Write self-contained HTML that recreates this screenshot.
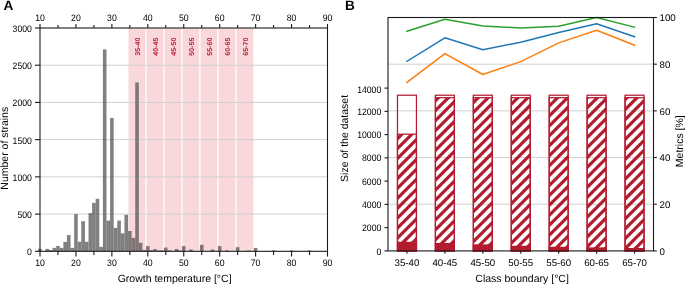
<!DOCTYPE html>
<html><head><meta charset="utf-8"><style>
html,body{margin:0;padding:0;background:#fff;width:685px;height:284px;overflow:hidden}
svg{display:block;font-family:"Liberation Sans", sans-serif;will-change:transform;text-rendering:geometricPrecision}
</style></head><body>
<svg width="685" height="284" viewBox="0 0 685 284">
<rect x="128.05" y="28.00" width="17.97" height="223.30" fill="#f9d7db"/>
<rect x="146.02" y="28.00" width="17.97" height="223.30" fill="#f9d7db"/>
<rect x="163.98" y="28.00" width="17.97" height="223.30" fill="#f9d7db"/>
<rect x="181.95" y="28.00" width="17.97" height="223.30" fill="#f9d7db"/>
<rect x="199.92" y="28.00" width="17.97" height="223.30" fill="#f9d7db"/>
<rect x="217.89" y="28.00" width="17.97" height="223.30" fill="#f9d7db"/>
<rect x="235.86" y="28.00" width="17.97" height="223.30" fill="#f9d7db"/>
<rect x="128.05" y="28.00" width="17.97" height="223.30" fill="none" stroke="#fff" stroke-width="1" stroke-opacity="0.85"/>
<rect x="146.02" y="28.00" width="17.97" height="223.30" fill="none" stroke="#fff" stroke-width="1" stroke-opacity="0.85"/>
<rect x="163.98" y="28.00" width="17.97" height="223.30" fill="none" stroke="#fff" stroke-width="1" stroke-opacity="0.85"/>
<rect x="181.95" y="28.00" width="17.97" height="223.30" fill="none" stroke="#fff" stroke-width="1" stroke-opacity="0.85"/>
<rect x="199.92" y="28.00" width="17.97" height="223.30" fill="none" stroke="#fff" stroke-width="1" stroke-opacity="0.85"/>
<rect x="217.89" y="28.00" width="17.97" height="223.30" fill="none" stroke="#fff" stroke-width="1" stroke-opacity="0.85"/>
<rect x="235.86" y="28.00" width="17.97" height="223.30" fill="none" stroke="#fff" stroke-width="1" stroke-opacity="0.85"/>
<line x1="40.0" y1="214.08" x2="327.5" y2="214.08" stroke="#d0d0d0" stroke-width="1"/>
<line x1="40.0" y1="176.87" x2="327.5" y2="176.87" stroke="#d0d0d0" stroke-width="1"/>
<line x1="40.0" y1="139.65" x2="327.5" y2="139.65" stroke="#d0d0d0" stroke-width="1"/>
<line x1="40.0" y1="102.43" x2="327.5" y2="102.43" stroke="#d0d0d0" stroke-width="1"/>
<line x1="40.0" y1="65.22" x2="327.5" y2="65.22" stroke="#d0d0d0" stroke-width="1"/>
<rect x="38.20" y="248.90" width="3.594" height="2.40" fill="#555555" fill-opacity="0.75"/>
<rect x="45.39" y="248.90" width="3.594" height="2.40" fill="#555555" fill-opacity="0.75"/>
<rect x="48.98" y="250.00" width="3.594" height="1.30" fill="#555555" fill-opacity="0.75"/>
<rect x="52.58" y="247.90" width="3.594" height="3.40" fill="#555555" fill-opacity="0.75"/>
<rect x="56.17" y="245.90" width="3.594" height="5.40" fill="#555555" fill-opacity="0.75"/>
<rect x="59.77" y="247.90" width="3.594" height="3.40" fill="#555555" fill-opacity="0.75"/>
<rect x="63.36" y="241.90" width="3.594" height="9.40" fill="#555555" fill-opacity="0.75"/>
<rect x="66.95" y="235.10" width="3.594" height="16.20" fill="#555555" fill-opacity="0.75"/>
<rect x="70.55" y="247.90" width="3.594" height="3.40" fill="#555555" fill-opacity="0.75"/>
<rect x="74.14" y="214.10" width="3.594" height="37.20" fill="#555555" fill-opacity="0.75"/>
<rect x="77.73" y="241.80" width="3.594" height="9.50" fill="#555555" fill-opacity="0.75"/>
<rect x="81.33" y="221.20" width="3.594" height="30.10" fill="#555555" fill-opacity="0.75"/>
<rect x="84.92" y="241.80" width="3.594" height="9.50" fill="#555555" fill-opacity="0.75"/>
<rect x="88.52" y="213.10" width="3.594" height="38.20" fill="#555555" fill-opacity="0.75"/>
<rect x="92.11" y="202.90" width="3.594" height="48.40" fill="#555555" fill-opacity="0.75"/>
<rect x="95.70" y="198.80" width="3.594" height="52.50" fill="#555555" fill-opacity="0.75"/>
<rect x="99.30" y="246.90" width="3.594" height="4.40" fill="#555555" fill-opacity="0.75"/>
<rect x="102.89" y="49.40" width="3.594" height="201.90" fill="#555555" fill-opacity="0.75"/>
<rect x="106.48" y="220.60" width="3.594" height="30.70" fill="#555555" fill-opacity="0.75"/>
<rect x="110.08" y="118.00" width="3.594" height="133.30" fill="#555555" fill-opacity="0.75"/>
<rect x="113.67" y="227.90" width="3.594" height="23.40" fill="#555555" fill-opacity="0.75"/>
<rect x="117.27" y="220.60" width="3.594" height="30.70" fill="#555555" fill-opacity="0.75"/>
<rect x="120.86" y="233.30" width="3.594" height="18.00" fill="#555555" fill-opacity="0.75"/>
<rect x="124.45" y="214.80" width="3.594" height="36.50" fill="#555555" fill-opacity="0.75"/>
<rect x="128.05" y="231.00" width="3.594" height="20.30" fill="#555555" fill-opacity="0.75"/>
<rect x="131.64" y="237.90" width="3.594" height="13.40" fill="#555555" fill-opacity="0.75"/>
<rect x="135.23" y="82.40" width="3.594" height="168.90" fill="#555555" fill-opacity="0.75"/>
<rect x="138.83" y="242.80" width="3.594" height="8.50" fill="#555555" fill-opacity="0.75"/>
<rect x="142.42" y="249.90" width="3.594" height="1.40" fill="#555555" fill-opacity="0.75"/>
<rect x="146.02" y="246.10" width="3.594" height="5.20" fill="#555555" fill-opacity="0.75"/>
<rect x="149.61" y="250.20" width="3.594" height="1.10" fill="#555555" fill-opacity="0.75"/>
<rect x="153.20" y="249.00" width="3.594" height="2.30" fill="#555555" fill-opacity="0.75"/>
<rect x="156.80" y="250.50" width="3.594" height="0.80" fill="#555555" fill-opacity="0.75"/>
<rect x="160.39" y="250.40" width="3.594" height="0.90" fill="#555555" fill-opacity="0.75"/>
<rect x="163.98" y="247.60" width="3.594" height="3.70" fill="#555555" fill-opacity="0.75"/>
<rect x="167.58" y="250.30" width="3.594" height="1.00" fill="#555555" fill-opacity="0.75"/>
<rect x="174.77" y="249.00" width="3.594" height="2.30" fill="#555555" fill-opacity="0.75"/>
<rect x="178.36" y="250.60" width="3.594" height="0.70" fill="#555555" fill-opacity="0.75"/>
<rect x="181.95" y="246.10" width="3.594" height="5.20" fill="#555555" fill-opacity="0.75"/>
<rect x="189.14" y="249.50" width="3.594" height="1.80" fill="#555555" fill-opacity="0.75"/>
<rect x="199.92" y="244.80" width="3.594" height="6.50" fill="#555555" fill-opacity="0.75"/>
<rect x="210.70" y="249.50" width="3.594" height="1.80" fill="#555555" fill-opacity="0.75"/>
<rect x="217.89" y="246.10" width="3.594" height="5.20" fill="#555555" fill-opacity="0.75"/>
<rect x="225.08" y="250.40" width="3.594" height="0.90" fill="#555555" fill-opacity="0.75"/>
<rect x="235.86" y="247.20" width="3.594" height="4.10" fill="#555555" fill-opacity="0.75"/>
<rect x="246.64" y="250.60" width="3.594" height="0.70" fill="#555555" fill-opacity="0.75"/>
<rect x="253.83" y="247.90" width="3.594" height="3.40" fill="#555555" fill-opacity="0.75"/>
<rect x="271.80" y="250.30" width="3.594" height="1.00" fill="#555555" fill-opacity="0.75"/>
<rect x="289.77" y="250.40" width="3.594" height="0.90" fill="#555555" fill-opacity="0.75"/>
<rect x="307.73" y="250.40" width="3.594" height="0.90" fill="#555555" fill-opacity="0.75"/>
<text x="0" y="0" transform="translate(140.48,46.7) rotate(-90)" text-anchor="middle" font-size="7.05" font-weight="bold" fill="#bd2238">35-40</text>
<text x="0" y="0" transform="translate(158.45,46.7) rotate(-90)" text-anchor="middle" font-size="7.05" font-weight="bold" fill="#bd2238">40-45</text>
<text x="0" y="0" transform="translate(176.42,46.7) rotate(-90)" text-anchor="middle" font-size="7.05" font-weight="bold" fill="#bd2238">45-50</text>
<text x="0" y="0" transform="translate(194.39,46.7) rotate(-90)" text-anchor="middle" font-size="7.05" font-weight="bold" fill="#bd2238">50-55</text>
<text x="0" y="0" transform="translate(212.36,46.7) rotate(-90)" text-anchor="middle" font-size="7.05" font-weight="bold" fill="#bd2238">55-60</text>
<text x="0" y="0" transform="translate(230.32,46.7) rotate(-90)" text-anchor="middle" font-size="7.05" font-weight="bold" fill="#bd2238">60-65</text>
<text x="0" y="0" transform="translate(248.29,46.7) rotate(-90)" text-anchor="middle" font-size="7.05" font-weight="bold" fill="#bd2238">65-70</text>
<rect x="40.0" y="28.0" width="287.5" height="223.3" fill="none" stroke="#1a1a1a" stroke-width="1.1"/>
<line x1="40.00" y1="251.3" x2="40.00" y2="256.6" stroke="#1a1a1a" stroke-width="1.1"/>
<line x1="40.00" y1="28.0" x2="40.00" y2="23.9" stroke="#1a1a1a" stroke-width="1.1"/>
<text transform="translate(40.00,265.6) scale(1,1.08)" text-anchor="middle" font-size="8.7" fill="#000000">10</text>
<text transform="translate(40.00,20.8) scale(1,1.08)" text-anchor="middle" font-size="8.7" fill="#000000">10</text>
<line x1="57.97" y1="251.3" x2="57.97" y2="255.10000000000002" stroke="#1a1a1a" stroke-width="1.1"/>
<line x1="57.97" y1="28.0" x2="57.97" y2="25.0" stroke="#1a1a1a" stroke-width="1.1"/>
<line x1="75.94" y1="251.3" x2="75.94" y2="256.6" stroke="#1a1a1a" stroke-width="1.1"/>
<line x1="75.94" y1="28.0" x2="75.94" y2="23.9" stroke="#1a1a1a" stroke-width="1.1"/>
<text transform="translate(75.94,265.6) scale(1,1.08)" text-anchor="middle" font-size="8.7" fill="#000000">20</text>
<text transform="translate(75.94,20.8) scale(1,1.08)" text-anchor="middle" font-size="8.7" fill="#000000">20</text>
<line x1="93.91" y1="251.3" x2="93.91" y2="255.10000000000002" stroke="#1a1a1a" stroke-width="1.1"/>
<line x1="93.91" y1="28.0" x2="93.91" y2="25.0" stroke="#1a1a1a" stroke-width="1.1"/>
<line x1="111.88" y1="251.3" x2="111.88" y2="256.6" stroke="#1a1a1a" stroke-width="1.1"/>
<line x1="111.88" y1="28.0" x2="111.88" y2="23.9" stroke="#1a1a1a" stroke-width="1.1"/>
<text transform="translate(111.88,265.6) scale(1,1.08)" text-anchor="middle" font-size="8.7" fill="#000000">30</text>
<text transform="translate(111.88,20.8) scale(1,1.08)" text-anchor="middle" font-size="8.7" fill="#000000">30</text>
<line x1="129.84" y1="251.3" x2="129.84" y2="255.10000000000002" stroke="#1a1a1a" stroke-width="1.1"/>
<line x1="129.84" y1="28.0" x2="129.84" y2="25.0" stroke="#1a1a1a" stroke-width="1.1"/>
<line x1="147.81" y1="251.3" x2="147.81" y2="256.6" stroke="#1a1a1a" stroke-width="1.1"/>
<line x1="147.81" y1="28.0" x2="147.81" y2="23.9" stroke="#1a1a1a" stroke-width="1.1"/>
<text transform="translate(147.81,265.6) scale(1,1.08)" text-anchor="middle" font-size="8.7" fill="#000000">40</text>
<text transform="translate(147.81,20.8) scale(1,1.08)" text-anchor="middle" font-size="8.7" fill="#000000">40</text>
<line x1="165.78" y1="251.3" x2="165.78" y2="255.10000000000002" stroke="#1a1a1a" stroke-width="1.1"/>
<line x1="165.78" y1="28.0" x2="165.78" y2="25.0" stroke="#1a1a1a" stroke-width="1.1"/>
<line x1="183.75" y1="251.3" x2="183.75" y2="256.6" stroke="#1a1a1a" stroke-width="1.1"/>
<line x1="183.75" y1="28.0" x2="183.75" y2="23.9" stroke="#1a1a1a" stroke-width="1.1"/>
<text transform="translate(183.75,265.6) scale(1,1.08)" text-anchor="middle" font-size="8.7" fill="#000000">50</text>
<text transform="translate(183.75,20.8) scale(1,1.08)" text-anchor="middle" font-size="8.7" fill="#000000">50</text>
<line x1="201.72" y1="251.3" x2="201.72" y2="255.10000000000002" stroke="#1a1a1a" stroke-width="1.1"/>
<line x1="201.72" y1="28.0" x2="201.72" y2="25.0" stroke="#1a1a1a" stroke-width="1.1"/>
<line x1="219.69" y1="251.3" x2="219.69" y2="256.6" stroke="#1a1a1a" stroke-width="1.1"/>
<line x1="219.69" y1="28.0" x2="219.69" y2="23.9" stroke="#1a1a1a" stroke-width="1.1"/>
<text transform="translate(219.69,265.6) scale(1,1.08)" text-anchor="middle" font-size="8.7" fill="#000000">60</text>
<text transform="translate(219.69,20.8) scale(1,1.08)" text-anchor="middle" font-size="8.7" fill="#000000">60</text>
<line x1="237.66" y1="251.3" x2="237.66" y2="255.10000000000002" stroke="#1a1a1a" stroke-width="1.1"/>
<line x1="237.66" y1="28.0" x2="237.66" y2="25.0" stroke="#1a1a1a" stroke-width="1.1"/>
<line x1="255.62" y1="251.3" x2="255.62" y2="256.6" stroke="#1a1a1a" stroke-width="1.1"/>
<line x1="255.62" y1="28.0" x2="255.62" y2="23.9" stroke="#1a1a1a" stroke-width="1.1"/>
<text transform="translate(255.62,265.6) scale(1,1.08)" text-anchor="middle" font-size="8.7" fill="#000000">70</text>
<text transform="translate(255.62,20.8) scale(1,1.08)" text-anchor="middle" font-size="8.7" fill="#000000">70</text>
<line x1="273.59" y1="251.3" x2="273.59" y2="255.10000000000002" stroke="#1a1a1a" stroke-width="1.1"/>
<line x1="273.59" y1="28.0" x2="273.59" y2="25.0" stroke="#1a1a1a" stroke-width="1.1"/>
<line x1="291.56" y1="251.3" x2="291.56" y2="256.6" stroke="#1a1a1a" stroke-width="1.1"/>
<line x1="291.56" y1="28.0" x2="291.56" y2="23.9" stroke="#1a1a1a" stroke-width="1.1"/>
<text transform="translate(291.56,265.6) scale(1,1.08)" text-anchor="middle" font-size="8.7" fill="#000000">80</text>
<text transform="translate(291.56,20.8) scale(1,1.08)" text-anchor="middle" font-size="8.7" fill="#000000">80</text>
<line x1="309.53" y1="251.3" x2="309.53" y2="255.10000000000002" stroke="#1a1a1a" stroke-width="1.1"/>
<line x1="309.53" y1="28.0" x2="309.53" y2="25.0" stroke="#1a1a1a" stroke-width="1.1"/>
<line x1="327.50" y1="251.3" x2="327.50" y2="256.6" stroke="#1a1a1a" stroke-width="1.1"/>
<line x1="327.50" y1="28.0" x2="327.50" y2="23.9" stroke="#1a1a1a" stroke-width="1.1"/>
<text transform="translate(327.50,265.6) scale(1,1.08)" text-anchor="middle" font-size="8.7" fill="#000000">90</text>
<text transform="translate(327.50,20.8) scale(1,1.08)" text-anchor="middle" font-size="8.7" fill="#000000">90</text>
<line x1="35.0" y1="251.30" x2="40.0" y2="251.30" stroke="#1a1a1a" stroke-width="1.1"/>
<text transform="translate(31.9,255.20) scale(1,1.08)" text-anchor="end" font-size="8.7" fill="#000000">0</text>
<line x1="35.0" y1="214.08" x2="40.0" y2="214.08" stroke="#1a1a1a" stroke-width="1.1"/>
<text transform="translate(31.9,217.98) scale(1,1.08)" text-anchor="end" font-size="8.7" fill="#000000">500</text>
<line x1="35.0" y1="176.87" x2="40.0" y2="176.87" stroke="#1a1a1a" stroke-width="1.1"/>
<text transform="translate(31.9,180.77) scale(1,1.08)" text-anchor="end" font-size="8.7" fill="#000000">1000</text>
<line x1="35.0" y1="139.65" x2="40.0" y2="139.65" stroke="#1a1a1a" stroke-width="1.1"/>
<text transform="translate(31.9,143.55) scale(1,1.08)" text-anchor="end" font-size="8.7" fill="#000000">1500</text>
<line x1="35.0" y1="102.43" x2="40.0" y2="102.43" stroke="#1a1a1a" stroke-width="1.1"/>
<text transform="translate(31.9,106.33) scale(1,1.08)" text-anchor="end" font-size="8.7" fill="#000000">2000</text>
<line x1="35.0" y1="65.22" x2="40.0" y2="65.22" stroke="#1a1a1a" stroke-width="1.1"/>
<text transform="translate(31.9,69.12) scale(1,1.08)" text-anchor="end" font-size="8.7" fill="#000000">2500</text>
<line x1="35.0" y1="28.00" x2="40.0" y2="28.00" stroke="#1a1a1a" stroke-width="1.1"/>
<text transform="translate(31.9,31.90) scale(1,1.08)" text-anchor="end" font-size="8.7" fill="#000000">3000</text>
<text x="174.6" y="282.0" text-anchor="middle" font-size="10.5" fill="#000000">Growth temperature [°C]</text>
<text x="0" y="0" transform="translate(8.0,148.25) rotate(-90)" text-anchor="middle" font-size="10.5" fill="#000000">Number of strains</text>
<text x="3.6" y="9.65" font-size="13.6" font-weight="bold" fill="#000">A</text>
<line x1="388.0" y1="204.22" x2="653.5" y2="204.22" stroke="#d0d0d0" stroke-width="1"/>
<line x1="388.0" y1="157.54" x2="653.5" y2="157.54" stroke="#d0d0d0" stroke-width="1"/>
<line x1="388.0" y1="110.86" x2="653.5" y2="110.86" stroke="#d0d0d0" stroke-width="1"/>
<line x1="388.0" y1="64.18" x2="653.5" y2="64.18" stroke="#d0d0d0" stroke-width="1"/>
<clipPath id="cp0"><rect x="397.48" y="134.21" width="18.96" height="116.69"/></clipPath>
<path clip-path="url(#cp0)" d="M394.08,122.21L253.39,262.90M404.01,122.21L263.32,262.90M413.94,122.21L273.25,262.90M423.87,122.21L283.18,262.90M433.80,122.21L293.11,262.90M443.73,122.21L303.04,262.90M453.66,122.21L312.97,262.90M463.59,122.21L322.90,262.90M473.52,122.21L332.83,262.90M483.45,122.21L342.76,262.90M493.38,122.21L352.69,262.90M503.31,122.21L362.62,262.90M513.24,122.21L372.55,262.90M523.17,122.21L382.48,262.90M533.10,122.21L392.41,262.90M543.03,122.21L402.34,262.90M552.96,122.21L412.27,262.90M562.89,122.21L422.20,262.90" stroke="#b31b2f" stroke-width="3.2" fill="none"/>
<rect x="397.48" y="134.21" width="18.96" height="116.69" fill="none" stroke="#b31b2f" stroke-width="1.25"/>
<rect x="397.48" y="242.38" width="18.96" height="8.52" fill="#b31b2f" stroke="#b31b2f" stroke-width="1.25"/>
<rect x="397.48" y="95.21" width="18.96" height="155.69" fill="none" stroke="#b31b2f" stroke-width="1.25"/>
<clipPath id="cp1"><rect x="435.41" y="97.71" width="18.96" height="153.19"/></clipPath>
<path clip-path="url(#cp1)" d="M430.58,85.71L253.39,262.90M440.51,85.71L263.32,262.90M450.44,85.71L273.25,262.90M460.37,85.71L283.18,262.90M470.30,85.71L293.11,262.90M480.23,85.71L303.04,262.90M490.16,85.71L312.97,262.90M500.09,85.71L322.90,262.90M510.02,85.71L332.83,262.90M519.95,85.71L342.76,262.90M529.88,85.71L352.69,262.90M539.81,85.71L362.62,262.90M549.74,85.71L372.55,262.90M559.67,85.71L382.48,262.90M569.60,85.71L392.41,262.90M579.53,85.71L402.34,262.90M589.46,85.71L412.27,262.90M599.39,85.71L422.20,262.90M609.32,85.71L432.13,262.90M619.25,85.71L442.06,262.90M629.18,85.71L451.99,262.90M639.11,85.71L461.92,262.90" stroke="#b31b2f" stroke-width="3.2" fill="none"/>
<rect x="435.41" y="97.71" width="18.96" height="153.19" fill="none" stroke="#b31b2f" stroke-width="1.25"/>
<rect x="435.41" y="243.57" width="18.96" height="7.33" fill="#b31b2f" stroke="#b31b2f" stroke-width="1.25"/>
<rect x="435.41" y="95.21" width="18.96" height="155.69" fill="none" stroke="#b31b2f" stroke-width="1.25"/>
<clipPath id="cp2"><rect x="473.34" y="97.71" width="18.96" height="153.19"/></clipPath>
<path clip-path="url(#cp2)" d="M470.30,85.71L293.11,262.90M480.23,85.71L303.04,262.90M490.16,85.71L312.97,262.90M500.09,85.71L322.90,262.90M510.02,85.71L332.83,262.90M519.95,85.71L342.76,262.90M529.88,85.71L352.69,262.90M539.81,85.71L362.62,262.90M549.74,85.71L372.55,262.90M559.67,85.71L382.48,262.90M569.60,85.71L392.41,262.90M579.53,85.71L402.34,262.90M589.46,85.71L412.27,262.90M599.39,85.71L422.20,262.90M609.32,85.71L432.13,262.90M619.25,85.71L442.06,262.90M629.18,85.71L451.99,262.90M639.11,85.71L461.92,262.90M649.04,85.71L471.85,262.90M658.97,85.71L481.78,262.90M668.90,85.71L491.71,262.90" stroke="#b31b2f" stroke-width="3.2" fill="none"/>
<rect x="473.34" y="97.71" width="18.96" height="153.19" fill="none" stroke="#b31b2f" stroke-width="1.25"/>
<rect x="473.34" y="244.98" width="18.96" height="5.92" fill="#b31b2f" stroke="#b31b2f" stroke-width="1.25"/>
<rect x="473.34" y="95.21" width="18.96" height="155.69" fill="none" stroke="#b31b2f" stroke-width="1.25"/>
<clipPath id="cp3"><rect x="511.27" y="97.71" width="18.96" height="153.19"/></clipPath>
<path clip-path="url(#cp3)" d="M510.02,85.71L332.83,262.90M519.95,85.71L342.76,262.90M529.88,85.71L352.69,262.90M539.81,85.71L362.62,262.90M549.74,85.71L372.55,262.90M559.67,85.71L382.48,262.90M569.60,85.71L392.41,262.90M579.53,85.71L402.34,262.90M589.46,85.71L412.27,262.90M599.39,85.71L422.20,262.90M609.32,85.71L432.13,262.90M619.25,85.71L442.06,262.90M629.18,85.71L451.99,262.90M639.11,85.71L461.92,262.90M649.04,85.71L471.85,262.90M658.97,85.71L481.78,262.90M668.90,85.71L491.71,262.90M678.83,85.71L501.64,262.90M688.76,85.71L511.57,262.90M698.69,85.71L521.50,262.90M708.62,85.71L531.43,262.90" stroke="#b31b2f" stroke-width="3.2" fill="none"/>
<rect x="511.27" y="97.71" width="18.96" height="153.19" fill="none" stroke="#b31b2f" stroke-width="1.25"/>
<rect x="511.27" y="246.36" width="18.96" height="4.54" fill="#b31b2f" stroke="#b31b2f" stroke-width="1.25"/>
<rect x="511.27" y="95.21" width="18.96" height="155.69" fill="none" stroke="#b31b2f" stroke-width="1.25"/>
<clipPath id="cp4"><rect x="549.20" y="97.71" width="18.96" height="153.19"/></clipPath>
<path clip-path="url(#cp4)" d="M549.74,85.71L372.55,262.90M559.67,85.71L382.48,262.90M569.60,85.71L392.41,262.90M579.53,85.71L402.34,262.90M589.46,85.71L412.27,262.90M599.39,85.71L422.20,262.90M609.32,85.71L432.13,262.90M619.25,85.71L442.06,262.90M629.18,85.71L451.99,262.90M639.11,85.71L461.92,262.90M649.04,85.71L471.85,262.90M658.97,85.71L481.78,262.90M668.90,85.71L491.71,262.90M678.83,85.71L501.64,262.90M688.76,85.71L511.57,262.90M698.69,85.71L521.50,262.90M708.62,85.71L531.43,262.90M718.55,85.71L541.36,262.90M728.48,85.71L551.29,262.90M738.41,85.71L561.22,262.90M748.34,85.71L571.15,262.90" stroke="#b31b2f" stroke-width="3.2" fill="none"/>
<rect x="549.20" y="97.71" width="18.96" height="153.19" fill="none" stroke="#b31b2f" stroke-width="1.25"/>
<rect x="549.20" y="247.41" width="18.96" height="3.49" fill="#b31b2f" stroke="#b31b2f" stroke-width="1.25"/>
<rect x="549.20" y="95.21" width="18.96" height="155.69" fill="none" stroke="#b31b2f" stroke-width="1.25"/>
<clipPath id="cp5"><rect x="587.12" y="97.71" width="18.96" height="153.19"/></clipPath>
<path clip-path="url(#cp5)" d="M579.53,85.71L402.34,262.90M589.46,85.71L412.27,262.90M599.39,85.71L422.20,262.90M609.32,85.71L432.13,262.90M619.25,85.71L442.06,262.90M629.18,85.71L451.99,262.90M639.11,85.71L461.92,262.90M649.04,85.71L471.85,262.90M658.97,85.71L481.78,262.90M668.90,85.71L491.71,262.90M678.83,85.71L501.64,262.90M688.76,85.71L511.57,262.90M698.69,85.71L521.50,262.90M708.62,85.71L531.43,262.90M718.55,85.71L541.36,262.90M728.48,85.71L551.29,262.90M738.41,85.71L561.22,262.90M748.34,85.71L571.15,262.90M758.27,85.71L581.08,262.90M768.20,85.71L591.01,262.90M778.13,85.71L600.94,262.90M788.06,85.71L610.87,262.90" stroke="#b31b2f" stroke-width="3.2" fill="none"/>
<rect x="587.12" y="97.71" width="18.96" height="153.19" fill="none" stroke="#b31b2f" stroke-width="1.25"/>
<rect x="587.12" y="247.99" width="18.96" height="2.91" fill="#b31b2f" stroke="#b31b2f" stroke-width="1.25"/>
<rect x="587.12" y="95.21" width="18.96" height="155.69" fill="none" stroke="#b31b2f" stroke-width="1.25"/>
<clipPath id="cp6"><rect x="625.05" y="97.71" width="18.96" height="153.19"/></clipPath>
<path clip-path="url(#cp6)" d="M619.25,85.71L442.06,262.90M629.18,85.71L451.99,262.90M639.11,85.71L461.92,262.90M649.04,85.71L471.85,262.90M658.97,85.71L481.78,262.90M668.90,85.71L491.71,262.90M678.83,85.71L501.64,262.90M688.76,85.71L511.57,262.90M698.69,85.71L521.50,262.90M708.62,85.71L531.43,262.90M718.55,85.71L541.36,262.90M728.48,85.71L551.29,262.90M738.41,85.71L561.22,262.90M748.34,85.71L571.15,262.90M758.27,85.71L581.08,262.90M768.20,85.71L591.01,262.90M778.13,85.71L600.94,262.90M788.06,85.71L610.87,262.90M797.99,85.71L620.80,262.90M807.92,85.71L630.73,262.90M817.85,85.71L640.66,262.90M827.78,85.71L650.59,262.90" stroke="#b31b2f" stroke-width="3.2" fill="none"/>
<rect x="625.05" y="97.71" width="18.96" height="153.19" fill="none" stroke="#b31b2f" stroke-width="1.25"/>
<rect x="625.05" y="248.63" width="18.96" height="2.27" fill="#b31b2f" stroke="#b31b2f" stroke-width="1.25"/>
<rect x="625.05" y="95.21" width="18.96" height="155.69" fill="none" stroke="#b31b2f" stroke-width="1.25"/>
<polyline points="406.96,82.40 444.89,53.70 482.82,74.50 520.75,61.60 558.68,42.90 596.61,30.30 634.54,45.20" fill="none" stroke="#ff7f0e" stroke-width="1.5" stroke-linejoin="round" stroke-linecap="square"/>
<polyline points="406.96,61.30 444.89,37.80 482.82,49.70 520.75,42.20 558.68,32.50 596.61,23.80 634.54,36.70" fill="none" stroke="#1f77b4" stroke-width="1.5" stroke-linejoin="round" stroke-linecap="square"/>
<polyline points="406.96,31.30 444.89,19.20 482.82,26.10 520.75,27.90 558.68,26.30 596.61,17.60 634.54,27.20" fill="none" stroke="#2ca02c" stroke-width="1.5" stroke-linejoin="round" stroke-linecap="square"/>
<rect x="388.0" y="17.5" width="265.5" height="233.4" fill="none" stroke="#1a1a1a" stroke-width="1.1"/>
<line x1="384.5" y1="250.90" x2="388.0" y2="250.90" stroke="#1a1a1a" stroke-width="1.1"/>
<text transform="translate(381.3,254.50) scale(1,1.08)" text-anchor="end" font-size="8.7" fill="#000000">0</text>
<line x1="384.5" y1="227.64" x2="388.0" y2="227.64" stroke="#1a1a1a" stroke-width="1.1"/>
<text transform="translate(381.3,231.24) scale(1,1.08)" text-anchor="end" font-size="8.7" fill="#000000">2000</text>
<line x1="384.5" y1="204.39" x2="388.0" y2="204.39" stroke="#1a1a1a" stroke-width="1.1"/>
<text transform="translate(381.3,207.99) scale(1,1.08)" text-anchor="end" font-size="8.7" fill="#000000">4000</text>
<line x1="384.5" y1="181.13" x2="388.0" y2="181.13" stroke="#1a1a1a" stroke-width="1.1"/>
<text transform="translate(381.3,184.73) scale(1,1.08)" text-anchor="end" font-size="8.7" fill="#000000">6000</text>
<line x1="384.5" y1="157.87" x2="388.0" y2="157.87" stroke="#1a1a1a" stroke-width="1.1"/>
<text transform="translate(381.3,161.47) scale(1,1.08)" text-anchor="end" font-size="8.7" fill="#000000">8000</text>
<line x1="384.5" y1="134.61" x2="388.0" y2="134.61" stroke="#1a1a1a" stroke-width="1.1"/>
<text transform="translate(381.3,138.21) scale(1,1.08)" text-anchor="end" font-size="8.7" fill="#000000">10000</text>
<line x1="384.5" y1="111.36" x2="388.0" y2="111.36" stroke="#1a1a1a" stroke-width="1.1"/>
<text transform="translate(381.3,114.96) scale(1,1.08)" text-anchor="end" font-size="8.7" fill="#000000">12000</text>
<line x1="384.5" y1="88.10" x2="388.0" y2="88.10" stroke="#1a1a1a" stroke-width="1.1"/>
<text transform="translate(381.3,93.10) scale(1,1.08)" text-anchor="end" font-size="8.7" fill="#000000">14000</text>
<line x1="653.5" y1="250.90" x2="656.8" y2="250.90" stroke="#1a1a1a" stroke-width="1.1"/>
<text x="659.5" y="254.60" font-size="9.7" fill="#000000">0</text>
<line x1="653.5" y1="204.22" x2="656.8" y2="204.22" stroke="#1a1a1a" stroke-width="1.1"/>
<text x="659.5" y="207.92" font-size="9.7" fill="#000000">20</text>
<line x1="653.5" y1="157.54" x2="656.8" y2="157.54" stroke="#1a1a1a" stroke-width="1.1"/>
<text x="659.5" y="161.24" font-size="9.7" fill="#000000">40</text>
<line x1="653.5" y1="110.86" x2="656.8" y2="110.86" stroke="#1a1a1a" stroke-width="1.1"/>
<text x="659.5" y="114.56" font-size="9.7" fill="#000000">60</text>
<line x1="653.5" y1="64.18" x2="656.8" y2="64.18" stroke="#1a1a1a" stroke-width="1.1"/>
<text x="659.5" y="67.88" font-size="9.7" fill="#000000">80</text>
<line x1="653.5" y1="17.50" x2="656.8" y2="17.50" stroke="#1a1a1a" stroke-width="1.1"/>
<text x="659.5" y="21.20" font-size="9.7" fill="#000000">100</text>
<line x1="406.96" y1="250.9" x2="406.96" y2="253.70000000000002" stroke="#1a1a1a" stroke-width="1.1"/>
<text x="406.96" y="266.0" text-anchor="middle" font-size="9.7" fill="#000000">35-40</text>
<line x1="444.89" y1="250.9" x2="444.89" y2="253.70000000000002" stroke="#1a1a1a" stroke-width="1.1"/>
<text x="444.89" y="266.0" text-anchor="middle" font-size="9.7" fill="#000000">40-45</text>
<line x1="482.82" y1="250.9" x2="482.82" y2="253.70000000000002" stroke="#1a1a1a" stroke-width="1.1"/>
<text x="482.82" y="266.0" text-anchor="middle" font-size="9.7" fill="#000000">45-50</text>
<line x1="520.75" y1="250.9" x2="520.75" y2="253.70000000000002" stroke="#1a1a1a" stroke-width="1.1"/>
<text x="520.75" y="266.0" text-anchor="middle" font-size="9.7" fill="#000000">50-55</text>
<line x1="558.68" y1="250.9" x2="558.68" y2="253.70000000000002" stroke="#1a1a1a" stroke-width="1.1"/>
<text x="558.68" y="266.0" text-anchor="middle" font-size="9.7" fill="#000000">55-60</text>
<line x1="596.61" y1="250.9" x2="596.61" y2="253.70000000000002" stroke="#1a1a1a" stroke-width="1.1"/>
<text x="596.61" y="266.0" text-anchor="middle" font-size="9.7" fill="#000000">60-65</text>
<line x1="634.54" y1="250.9" x2="634.54" y2="253.70000000000002" stroke="#1a1a1a" stroke-width="1.1"/>
<text x="634.54" y="266.0" text-anchor="middle" font-size="9.7" fill="#000000">65-70</text>
<text x="522.1" y="282.2" text-anchor="middle" font-size="10.5" fill="#000000">Class boundary [°C]</text>
<text x="0" y="0" transform="translate(348.2,138.4) rotate(-90)" text-anchor="middle" font-size="10.5" fill="#000000">Size of the dataset</text>
<text x="0" y="0" transform="translate(683.0,141.25) rotate(-90)" text-anchor="middle" font-size="10.5" fill="#000000">Metrics [%]</text>
<text x="345.0" y="9.9" font-size="13.6" font-weight="bold" fill="#000">B</text>
</svg></body></html>
